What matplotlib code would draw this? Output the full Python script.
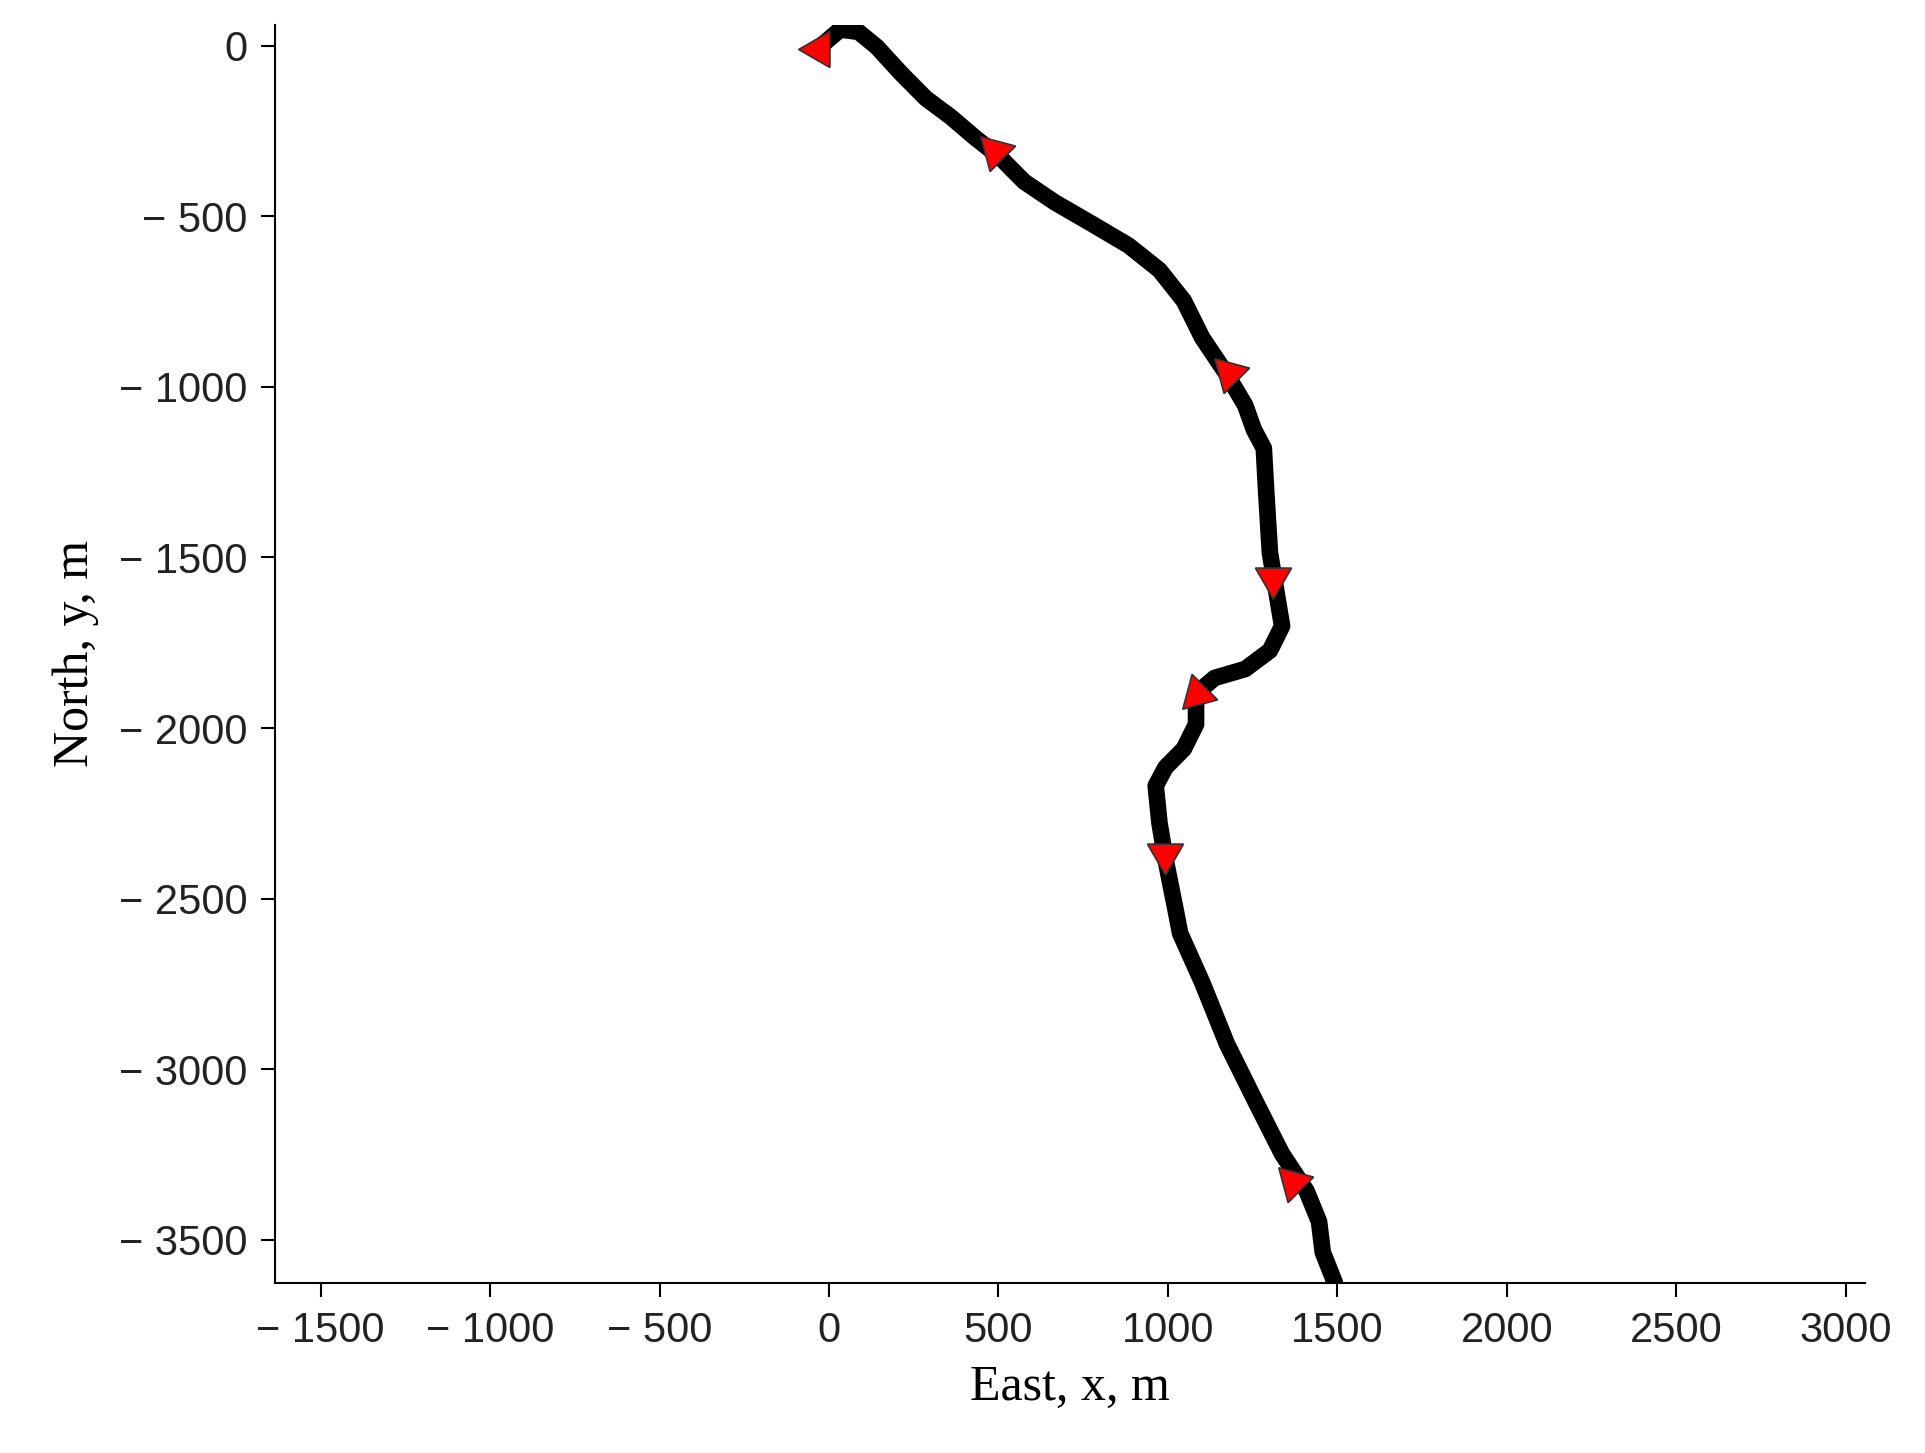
import numpy as np
import matplotlib.pyplot as plt

# trajectory (metres)
east = [-14, 33, 87, 141, 214, 286, 359, 431, 504, 576, 667, 775, 884, 975, 1047, 1101,
        1174, 1228, 1254, 1283, 1290, 1301, 1319, 1337, 1301, 1228, 1138, 1083, 1083, 1047,
        993, 964, 975, 993, 1022, 1036, 1101, 1174, 1264, 1337, 1409, 1446, 1457, 1493]
north = [7, 47, 40, -4, -83, -155, -209, -270, -327, -399, -460, -522, -586, -658, -748, -856,
         -964, -1054, -1126, -1180, -1306, -1486, -1594, -1701, -1773, -1827, -1853, -1899, -1989, -2061,
         -2115, -2169, -2277, -2385, -2529, -2601, -2745, -2925, -3105, -3248, -3356, -3446, -3536, -3626]

# heading markers: position and triangle rotation (deg)
arrow_x = [-30, 490, 1180, 1310, 1085, 990, 1370]
arrow_y = [-10, -310, -960, -1560, -1900, -2370, -3330]
arrow_rot = [90, 45, 165, 180, 135, 180, 45]

fig = plt.figure(figsize=(19.25, 14.53), dpi=100)
ax = fig.add_axes([0.143, 0.117, 0.826, 0.866])

ax.plot(east, north, color='black', linewidth=12, solid_capstyle='round', solid_joinstyle='round')
for x, y, r in zip(arrow_x, arrow_y, arrow_rot):
    ax.plot(x, y, marker=(3, 0, r), markersize=30, markerfacecolor='red',
            markeredgecolor='#333333', markeredgewidth=1.2, linestyle='none')

ax.set_xlim(-1634, 3058)
ax.set_ylim(-3626, 61)
ax.set_xticks(np.arange(-1500, 3001, 500))
ax.set_yticks(np.arange(-3500, 1, 500))

def fmt(v):
    return ('\u2212 %d' % -v) if v < 0 else '%d' % v

ax.set_xticklabels([fmt(v) for v in ax.get_xticks()], fontsize=30, family='Liberation Sans', color='#222222')
ax.set_yticklabels([fmt(v) for v in ax.get_yticks()], fontsize=30, family='Liberation Sans', color='#222222')
ax.tick_params(direction='out', length=10, width=1.5, pad=10)

for s in ['top', 'right']:
    ax.spines[s].set_visible(False)
for s in ['left', 'bottom']:
    ax.spines[s].set_linewidth(1.5)

ax.set_xlabel('East, x, m', fontsize=36, family='Liberation Serif', labelpad=10)
ax.set_ylabel('North, y, m', fontsize=36, family='Liberation Serif', labelpad=14)

fig.savefig('out.png', dpi=100)
